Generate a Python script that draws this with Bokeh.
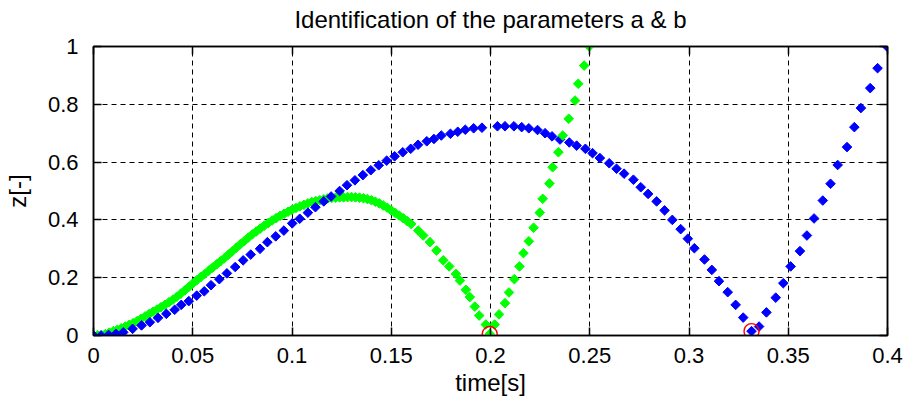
import numpy as np
from bokeh.plotting import figure
from bokeh.models import LinearAxis, FixedTicker, Range1d, CustomLabelingPolicy
from bokeh.embed import file_html
from bokeh.resources import INLINE

# ---------------- data ----------------
title_text = "Identification of the parameters a & b"
x_label = "time[s]"
y_label = "z[-]"

x_ticks = [0, 0.05, 0.1, 0.15, 0.2, 0.25, 0.3, 0.35, 0.4]
x_tick_labels = ["0", "0.05", "0.1", "0.15", "0.2", "0.25", "0.3", "0.35", "0.4"]
y_ticks = [0, 0.2, 0.4, 0.6, 0.8, 1.0]
y_tick_labels = ["0", "0.2", "0.4", "0.6", "0.8", "1"]

# green series (parameter set 1)
green_t = [
    0.000, 0.002, 0.004, 0.006, 0.008, 0.010, 0.012, 0.014, 0.016, 0.018,
    0.020, 0.022, 0.024, 0.026, 0.028, 0.030, 0.032, 0.034, 0.036, 0.038,
    0.040, 0.042, 0.044, 0.046, 0.048, 0.050, 0.052, 0.054, 0.056, 0.058,
    0.060, 0.062, 0.064, 0.066, 0.068, 0.070, 0.072, 0.074, 0.076, 0.078,
    0.080, 0.082, 0.084, 0.086, 0.088, 0.090, 0.092, 0.094, 0.096, 0.098,
    0.100, 0.102, 0.104, 0.106, 0.108, 0.110, 0.112, 0.114, 0.116, 0.118,
    0.120, 0.122, 0.124, 0.126, 0.128, 0.130, 0.132, 0.134, 0.136, 0.138,
    0.140, 0.142, 0.144, 0.146, 0.148, 0.150, 0.152, 0.154, 0.156, 0.158,
    0.160, 0.1636, 0.1661, 0.1695, 0.1728, 0.1762, 0.1792, 0.1826, 0.1846, 0.1876,
    0.1896, 0.1921, 0.1943, 0.1976, 0.1996, 0.2021, 0.2043, 0.2073, 0.2093, 0.2120,
    0.2146, 0.2166, 0.2193, 0.2217, 0.2248, 0.2263, 0.2297, 0.2313, 0.2342, 0.2364,
    0.2394, 0.2426, 0.2442, 0.2472, 0.2497,
]
green_z = [
    0.000, 0.001, 0.002, 0.005, 0.010, 0.015, 0.020, 0.025, 0.031, 0.037,
    0.043, 0.050, 0.058, 0.066, 0.074, 0.082, 0.090, 0.098, 0.106, 0.115,
    0.124, 0.134, 0.145, 0.156, 0.168, 0.180, 0.191, 0.202, 0.213, 0.224,
    0.235, 0.246, 0.257, 0.268, 0.280, 0.292, 0.304, 0.316, 0.327, 0.339,
    0.350, 0.360, 0.370, 0.380, 0.389, 0.398, 0.406, 0.414, 0.421, 0.428,
    0.435, 0.441, 0.447, 0.452, 0.457, 0.462, 0.465, 0.468, 0.471, 0.474,
    0.476, 0.477, 0.478, 0.478, 0.479, 0.479, 0.478, 0.477, 0.475, 0.472,
    0.468, 0.463, 0.457, 0.450, 0.442, 0.433, 0.424, 0.415, 0.406, 0.396,
    0.386, 0.363, 0.346, 0.323, 0.294, 0.260, 0.239, 0.213, 0.190, 0.158,
    0.133, 0.100, 0.069, 0.038, 0.005, 0.038, 0.073, 0.112, 0.149, 0.195,
    0.239, 0.285, 0.326, 0.373, 0.425, 0.473, 0.526, 0.582, 0.634, 0.692,
    0.750, 0.813, 0.871, 0.934, 1.000,
]
green_dense_count = 81  # first points, sampled finely

# blue series (parameter set 2)
blue_t = [
    0.0000, 0.0038, 0.0076, 0.0113, 0.0150, 0.0197, 0.0242, 0.0284, 0.0325, 0.0367,
    0.0409, 0.0442, 0.0480, 0.0520, 0.0558, 0.0592, 0.0634, 0.0672, 0.0714, 0.0754,
    0.0792, 0.0839, 0.0876, 0.0918, 0.0959, 0.1001, 0.1039, 0.1080, 0.1118, 0.1160,
    0.1197, 0.1240, 0.1277, 0.1317, 0.1357, 0.1397, 0.1437, 0.1477, 0.1517, 0.1558,
    0.1598, 0.1635, 0.1679, 0.1715, 0.1752, 0.1798, 0.1835, 0.1873, 0.1915, 0.1957,
    0.2035, 0.2073, 0.2118, 0.2157, 0.2193, 0.2237, 0.2275, 0.2310, 0.2350, 0.2397,
    0.2434, 0.2478, 0.2514, 0.2551, 0.2598, 0.2635, 0.2673, 0.2720, 0.2757, 0.2794,
    0.2837, 0.2877, 0.2916, 0.2958, 0.2994, 0.3027, 0.3078, 0.3115, 0.3151, 0.3195,
    0.3235, 0.3273, 0.3315, 0.3353, 0.3390, 0.3437, 0.3475, 0.3512, 0.3559, 0.3594,
    0.3630, 0.3674, 0.3713, 0.3749, 0.3796, 0.3833, 0.3866, 0.3913, 0.3950, 0.3997,
]
blue_z = [
    0.000, 0.000, 0.002, 0.006, 0.011, 0.023, 0.035, 0.046, 0.061, 0.075,
    0.089, 0.106, 0.119, 0.138, 0.153, 0.174, 0.195, 0.215, 0.237, 0.260,
    0.280, 0.300, 0.323, 0.343, 0.363, 0.388, 0.404, 0.425, 0.444, 0.464,
    0.481, 0.500, 0.520, 0.537, 0.555, 0.572, 0.589, 0.605, 0.620, 0.634,
    0.646, 0.660, 0.672, 0.680, 0.692, 0.698, 0.705, 0.712, 0.717, 0.719,
    0.724, 0.724, 0.724, 0.721, 0.717, 0.711, 0.700, 0.689, 0.678, 0.668,
    0.657, 0.646, 0.631, 0.614, 0.596, 0.577, 0.560, 0.539, 0.513, 0.490,
    0.464, 0.433, 0.400, 0.368, 0.335, 0.302, 0.263, 0.227, 0.188, 0.150,
    0.106, 0.062, 0.015, 0.031, 0.080, 0.131, 0.181, 0.239, 0.292, 0.346,
    0.405, 0.467, 0.525, 0.590, 0.652, 0.721, 0.787, 0.856, 0.925, 1.000,
]

# identified minima (red circles)
min_t = [0.1996, 0.3315]
min_z = [0.005, 0.015]

# ---------------- figure ----------------
FONT = "Liberation Sans"

p = figure(
    width=905, height=404,
    x_range=Range1d(0, 0.4), y_range=Range1d(0, 1),
    output_backend="svg", toolbar_location=None,
    min_border_left=92, min_border_right=16,
    min_border_top=46, min_border_bottom=69,
    title=title_text,
)
p.background_fill_color = "white"
p.border_fill_color = "white"
p.outline_line_color = "black"
p.outline_line_width = 1.5

p.title.align = "center"
p.title.text_font = FONT
p.title.text_font_size = "24px"
p.title.text_font_style = "normal"
p.title.text_color = "black"
p.title.standoff = 6

x_over = {t: s for t, s in zip(x_ticks, x_tick_labels)}
y_over = {t: s for t, s in zip(y_ticks, y_tick_labels)}

for ax, ticks, over in ((p.xaxis[0], x_ticks, x_over), (p.yaxis[0], y_ticks, y_over)):
    ax.ticker = FixedTicker(ticks=ticks)
    ax.major_label_overrides = over
    ax.minor_tick_line_color = None
    ax.major_tick_in = 8
    ax.major_tick_out = 0
    ax.axis_line_color = "black"
    ax.axis_line_width = 1.5
    ax.major_tick_line_color = "black"
    ax.major_tick_line_width = 1.5
    ax.major_label_text_font = FONT
    ax.major_label_text_font_size = "22px"
    ax.major_label_text_color = "black"
    ax.axis_label_text_font = FONT
    ax.axis_label_text_font_size = "24px"
    ax.axis_label_text_font_style = "normal"
    ax.axis_label_text_color = "black"

p.xaxis[0].axis_label = x_label
p.xaxis[0].major_label_standoff = 12
p.xaxis[0].axis_label_standoff = 3
p.yaxis[0].axis_label = y_label
p.yaxis[0].major_label_standoff = 15
p.yaxis[0].axis_label_standoff = 14

# mirrored axes (ticks on top and right, without labels)
no_labels = CustomLabelingPolicy(code="""
const ids = Array.from(indices)
for (const i of ids) indices.unset(i)
return indices
""")
for loc, ticks in (("above", x_ticks), ("right", y_ticks)):
    a = LinearAxis(ticker=FixedTicker(ticks=ticks))
    a.major_label_policy = no_labels
    a.major_label_standoff = 0
    a.major_tick_in = 8
    a.major_tick_out = 0
    a.minor_tick_line_color = None
    a.axis_line_color = "black"
    a.axis_line_width = 1.5
    a.major_tick_line_color = "black"
    a.major_tick_line_width = 1.5
    p.add_layout(a, loc)

for g in (p.xgrid[0], p.ygrid[0]):
    g.grid_line_color = "black"
    g.grid_line_dash = "5 4"
    g.grid_line_width = 1
p.xgrid[0].ticker = FixedTicker(ticks=x_ticks)
p.ygrid[0].ticker = FixedTicker(ticks=y_ticks)

ang = np.pi / 4
n = green_dense_count
p.scatter(green_t[:n], green_z[:n], marker="square", angle=ang, size=6.8,
          fill_color="#00ff00", line_color="#00ff00", line_width=1)
p.scatter(blue_t, blue_z, marker="square", angle=ang, size=6.8,
          fill_color="#0000ff", line_color="#0000ff", line_width=1)
p.scatter(green_t[n:], green_z[n:], marker="square", angle=ang, size=6.8,
          fill_color="#00ff00", line_color="#00ff00", line_width=1)
p.scatter(min_t, min_z, marker="circle", size=15,
          fill_color=None, line_color="#ff0000", line_width=1.4)

open("out.html", "w").write(file_html(p, INLINE))
